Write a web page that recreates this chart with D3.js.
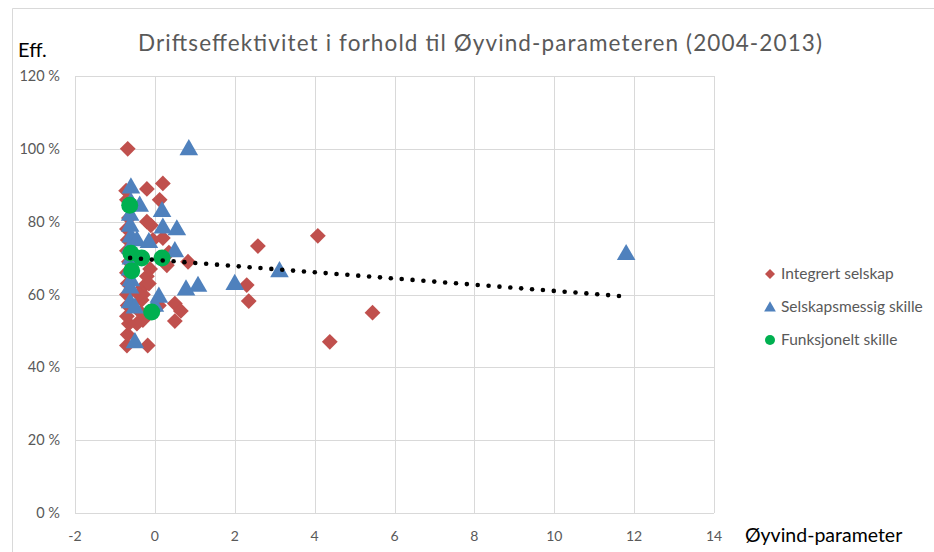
<!DOCTYPE html>
<html><head><meta charset="utf-8">
<script src="https://cdn.jsdelivr.net/npm/d3@7"></script>
<style>body{margin:0;background:#fff}svg{display:block}text{font-family:Lato,"Open Sans",sans-serif}</style>
</head><body><svg id="c" width="934" height="552"></svg>
<script>
const title = "Driftseffektivitet i forhold til Øyvind-parameteren (2004-2013)";
const seriesNames = ["Integrert selskap","Selskapsmessig skille","Funksjonelt skille"];
const xTicks = [-2,0,2,4,6,8,10,12,14];
const yTicks = [0,0.2,0.4,0.6,0.8,1.0,1.2];
const integrertX = [-0.68,-0.2,0.2,0.12,-0.2,-0.1,0.2,-0.05,0.3,0.83,0.35,-0.12,-0.2,-0.3,-0.3,-0.33,0.5,0.65,0.5,-0.3,-0.45,-0.18,-0.7,-0.68,-0.65,-0.7,-0.68,-0.7,-0.68,-0.7,-0.65,-0.7,-0.68,-0.7,-0.65,-0.7,-0.72,2.58,4.08,2.3,2.35,5.45,4.38,-0.4,-0.35,-0.15,0.1];
const integrertY = [1.00,0.89,0.905,0.86,0.80,0.79,0.755,0.75,0.68,0.69,0.715,0.67,0.65,0.62,0.60,0.585,0.575,0.555,0.527,0.53,0.52,0.46,0.46,0.49,0.52,0.54,0.57,0.60,0.63,0.66,0.69,0.72,0.75,0.78,0.81,0.86,0.885,0.733,0.761,0.626,0.582,0.55,0.47,0.60,0.55,0.63,0.57];
const selskapX = [0.85,11.8,3.12,2.0,1.08,0.78,-0.6,-0.6,-0.38,0.18,0.2,0.55,-0.62,-0.62,-0.6,-0.62,-0.6,-0.62,-0.6,-0.62,-0.62,-0.15,0.5,0.1,-0.5,-0.5,0.0,-0.45];
const selskapY = [1.00,0.712,0.665,0.63,0.625,0.615,0.895,0.855,0.845,0.83,0.785,0.78,0.82,0.79,0.76,0.73,0.70,0.67,0.64,0.62,0.58,0.745,0.72,0.595,0.47,0.565,0.57,0.75];
const funksjoneltX = [-0.63,-0.6,-0.33,-0.58,0.18,-0.08];
const funksjoneltY = [0.845,0.713,0.70,0.665,0.70,0.552];
const trendX = [-0.62,11.62];
const trendY = [0.7005,0.596];

const svg = d3.select("#c");
const x = d3.scaleLinear().domain([-2,14]).range([75,714]);
const y = d3.scaleLinear().domain([0,1.2]).range([513,76]);
const grid = "#D9D9D9", txt = "#595959";

// chart border
svg.append("path").attr("d","M12.5,552 L12.5,8.5 L934,8.5").attr("fill","none").attr("stroke","#D9D9D9").attr("stroke-width",1);

// gridlines
svg.append("g").selectAll("line").data(yTicks).join("line")
  .attr("x1",x(-2)).attr("x2",x(14)).attr("y1",d=>Math.round(y(d))+0.5).attr("y2",d=>Math.round(y(d))+0.5)
  .attr("stroke",grid);
svg.append("g").selectAll("line").data(xTicks).join("line")
  .attr("y1",y(0)).attr("y2",y(1.2)).attr("x1",d=>Math.round(x(d))+0.5).attr("x2",d=>Math.round(x(d))+0.5)
  .attr("stroke",grid);

// axes labels
const fmt = d => Math.round(d*100) + " %";
svg.append("g").selectAll("text").data(yTicks).join("text")
  .attr("x",60).attr("y",d=>y(d)).attr("dy","0.35em").attr("text-anchor","end")
  .attr("font-size",14.5).attr("fill",txt).text(fmt);
svg.append("g").selectAll("text").data(xTicks).join("text")
  .attr("x",d=>x(d)).attr("y",536).attr("dy","0.35em").attr("text-anchor","middle")
  .attr("font-size",14).attr("fill",txt).text(d=>d);

svg.append("text").attr("x",480).attr("y",51).attr("text-anchor","middle").attr("font-size",22.5)
  .attr("textLength",684).attr("lengthAdjust","spacing").attr("fill",txt).text(title);
svg.append("text").attr("x",18).attr("y",57).attr("font-size",20).attr("fill","#000").text("Eff.");
svg.append("text").attr("x",745).attr("y",542).attr("font-size",19.5).attr("fill","#000").text("Øyvind-parameter");

const red="#C0504D", blue="#4F81BD", green="#00B050";
const diamond = d3.symbol().type(d3.symbolSquare).size(125);
const tri = d3.symbol().type(d3.symbolTriangle).size(150);

const redData = integrertX.map((v,i)=>[v,integrertY[i]]);
const blueData = selskapX.map((v,i)=>[v,selskapY[i]]);
const greenData = funksjoneltX.map((v,i)=>[v,funksjoneltY[i]]);

svg.append("g").selectAll("path").data(redData).join("path")
  .attr("d",diamond()).attr("fill",red)
  .attr("transform",d=>`translate(${x(d[0])},${y(d[1])}) rotate(45)`);
svg.append("g").selectAll("path").data(blueData).join("path")
  .attr("d",tri()).attr("fill",blue)
  .attr("transform",d=>`translate(${x(d[0])},${y(d[1])+1})`);
svg.append("g").selectAll("circle").data(greenData).join("circle")
  .attr("cx",d=>x(d[0])).attr("cy",d=>y(d[1])).attr("r",8.5).attr("fill",green);

// trendline: dots placed along the line with ~11px spacing
const tx1=x(trendX[0]), ty1=y(trendY[0]), tx2=x(trendX[1]), ty2=y(trendY[1]);
const L = Math.hypot(tx2-tx1, ty2-ty1);
const n = Math.round(L/11);
const dots = d3.range(n+1).map(i => i/n);
svg.append("g").selectAll("circle").data(dots).join("circle")
  .attr("cx",t=>tx1+(tx2-tx1)*t).attr("cy",t=>ty1+(ty2-ty1)*t).attr("r",2.3).attr("fill","#000");

// legend
const lg = svg.append("g");
const ly = [274,307,340];
lg.append("path").attr("d",d3.symbol().type(d3.symbolSquare).size(50)()).attr("fill",red).attr("transform",`translate(770,${ly[0]}) rotate(45)`);
lg.append("path").attr("d",d3.symbol().type(d3.symbolTriangle).size(60)()).attr("fill",blue).attr("transform",`translate(770,${ly[1]+1})`);
lg.append("circle").attr("cx",770).attr("cy",ly[2]).attr("r",5).attr("fill",green);
lg.selectAll("text").data(seriesNames).join("text")
  .attr("x",781).attr("y",(d,i)=>ly[i]).attr("dy","0.35em").attr("font-size",15.5).attr("fill",txt).text(d=>d);
</script></body></html>
